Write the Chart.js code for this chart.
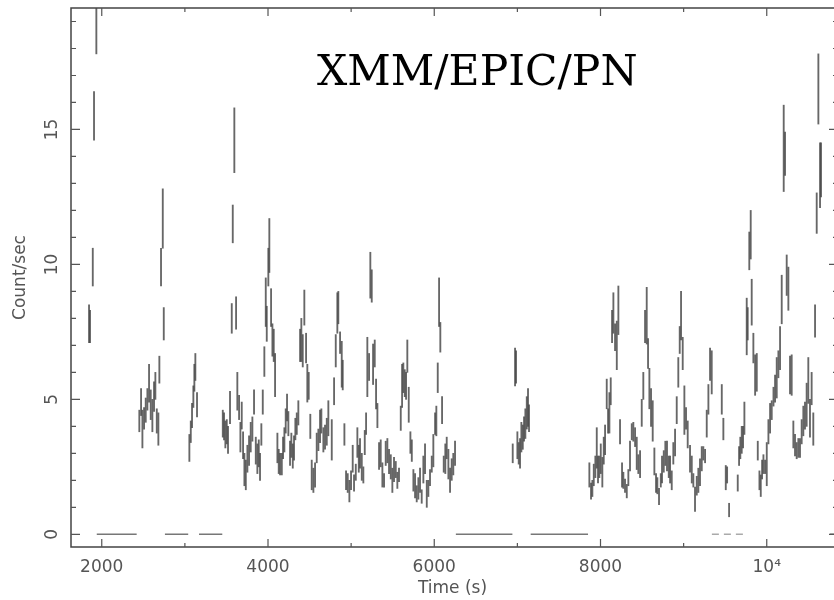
<!DOCTYPE html>
<html><head><meta charset="utf-8">
<script src="https://cdn.jsdelivr.net/npm/chart.js@4"></script>
<style>html,body{margin:0;padding:0;background:#fff}canvas{display:block}</style>
</head><body>
<canvas id="c" width="834" height="600"></canvas>
<script>
// ---- data (time in s, count rate, 1-sigma error) ----
const time = [
1847,1859,1892,1907,1935,
2452,2473,2489,2509,2529,2549,2569,2589,2609,2629,2645,2662,2681,2693,2713,2734,2746,
3054,3071,3086,3102,3114,3126,3146,
3456,3471,3487,3504,3519,3543,3564,3576,3595,3616,3631,3652,3668,3684,3700,3716,3733,3752,3772,3792,3812,3832,3853,3872,3889,3904,3920,3937,3956,3973,3985,4004,4016,4037,4053,4069,4085,4113,4129,4145,4166,4181,4197,4213,4229,4245,4265,4281,4298,4313,4329,4346,4365,4386,4401,4418,4437,4458,4473,4490,4509,4526,4546,4566,4586,4606,4626,4642,4666,4686,4707,4726,
4767,4795,4815,4834,4846,4867,4887,4899,4919,4939,4959,4979,4999,5019,5035,5056,5075,5092,5107,5128,5147,5164,5180,5195,5216,5231,5248,5264,5284,5300,5316,5336,5356,5376,5396,5416,5436,5456,5477,5496,5516,5537,5556,5576,5597,5613,5628,5645,5661,5676,5693,5713,5730,5749,5769,5789,5809,5829,5849,5869,5889,5910,5929,5949,5970,5989,6010,6025,6042,6058,6073,6094,6114,6133,6150,6170,6190,6210,6229,6250,
6944,6972,6984,7000,7016,7032,7048,7065,7080,7096,7113,7128,7140,
7866,7886,7902,7919,7938,7955,7970,7986,8003,8022,8039,8055,8075,8091,8107,8123,8139,8155,8175,8196,8215,8235,8259,8275,8295,8316,8335,8355,8376,8395,8416,8436,8455,8476,8496,8515,8536,8556,8572,8588,8608,8628,8648,8668,8684,8704,8725,8740,8761,8780,8800,8821,8837,8857,8876,8897,8917,8936,8953,8969,8989,9009,9029,9049,9077,9098,9117,9137,9158,9177,9197,9218,9237,9258,9278,9298,9318,9338,
9459,9478,9507,9523,9547,9651,9667,9682,9699,9715,9731,9759,9771,9790,9807,9819,9839,9860,9880,9892,9912,9928,9944,9960,9980,10000,10020,10040,10060,10081,10100,10120,10140,10160,10180,10204,10220,10240,10260,10280,10300,10320,10340,10360,10380,10400,10420,10440,10460,10480,10500,10520,10540,10560,10581,10601,10621,10641,10653
];
const rate = [
7.8,7.7,9.9,15.5,19.2,
4.2,4.9,3.9,4.3,4.6,5.0,5.6,4.8,4.4,5.1,5.5,4.2,3.9,6.1,9.9,11.7,7.8,
3.2,3.8,4.4,5.1,5.8,6.2,4.8,
4.1,4.0,3.7,3.8,3.5,4.7,8.0,11.5,14.6,8.2,5.3,4.7,3.6,4.4,3.3,2.4,2.2,2.8,3.1,3.6,3.9,4.9,3.1,2.8,3.0,2.5,3.7,4.9,6.4,8.6,7.8,9.9,10.7,8.4,7.2,7.0,5.9,3.2,2.7,2.6,2.6,3.2,3.5,4.2,4.7,4.1,3.0,3.3,2.9,3.2,3.9,4.1,4.5,7.0,7.2,6.8,8.4,6.9,5.6,5.5,4.0,2.2,2.0,2.2,3.2,3.5,4.0,4.2,3.5,3.6,3.8,4.3,
3.5,5.3,6.8,8.2,8.4,7.1,6.3,5.9,3.7,2.0,1.9,1.6,2.0,2.8,1.9,2.3,3.4,2.8,3.0,2.5,2.2,3.4,4.1,6.2,6.2,9.6,9.2,6.3,6.7,5.2,4.4,2.9,3.0,2.2,2.0,3.0,3.1,2.7,2.5,2.0,2.4,2.4,2.0,2.2,4.3,5.5,5.8,5.6,5.5,6.6,4.8,3.4,3.1,2.0,1.8,1.5,1.7,2.0,1.4,2.4,2.8,1.5,1.7,2.1,2.6,3.1,4.1,4.2,5.8,8.6,7.3,4.6,2.6,2.8,3.2,2.6,2.0,2.4,2.6,3.0,
3.0,6.2,6.2,3.3,3.0,3.0,3.6,3.6,3.9,4.1,4.5,4.7,4.3,
2.2,1.6,1.7,2.2,2.5,3.2,2.4,2.5,2.8,2.3,3.1,3.5,5.2,4.2,4.5,5.3,7.7,8.2,7.3,7.0,8.3,3.8,2.2,2.0,1.8,1.6,2.1,2.9,3.8,3.8,3.6,3.0,2.6,2.6,4.5,5.5,7.7,8.1,6.7,5.4,4.7,4.2,2.7,1.9,1.8,1.4,2.0,2.4,2.7,3.0,2.9,2.5,2.4,2.0,3.0,3.4,4.6,6.0,7.2,8.1,6.7,4.6,4.3,3.7,2.8,2.4,2.0,1.3,1.8,2.0,2.3,2.8,3.0,2.9,4.1,5.0,6.3,6.0,
5.0,3.9,2.1,2.2,0.9,1.9,2.9,3.2,3.5,3.6,4.3,7.7,7.8,10.5,11.1,8.6,6.9,5.9,6.0,3.1,2.0,1.8,2.4,2.6,2.5,2.6,3.8,4.3,4.6,5.1,5.4,5.8,6.3,6.9,8.7,14.3,14.1,9.6,9.1,5.9,5.9,3.7,3.3,3.1,3.2,3.2,3.8,4.2,4.4,4.8,5.7,4.3,5.4,3.9,7.9,11.9,16.5,13.3,13.5
];
const rateErr = [
0.7,0.6,0.7,0.9,1.4,
0.4,0.5,0.7,0.4,0.45,0.4,0.7,0.55,0.6,0.55,0.5,0.45,0.6,0.5,0.7,1.1,0.6,
0.5,0.4,0.45,0.4,0.5,0.5,0.45,
0.5,0.5,0.5,0.45,0.5,0.6,0.55,0.7,1.2,0.6,0.7,0.45,0.55,0.5,0.5,0.6,0.55,0.5,0.55,0.55,0.45,0.45,0.5,0.55,0.5,0.5,0.4,0.45,0.55,0.9,0.65,0.7,1.0,0.7,0.6,0.6,0.8,0.55,0.45,0.4,0.4,0.4,0.45,0.45,0.5,0.45,0.45,0.45,0.45,0.45,0.4,0.4,0.45,0.6,0.8,0.6,0.65,0.55,0.7,0.5,0.45,0.55,0.45,0.45,0.55,0.4,0.6,0.45,0.45,0.45,0.5,0.65,
0.75,0.5,0.6,0.75,0.6,0.4,0.85,0.55,0.4,0.35,0.35,0.4,0.35,0.5,0.3,0.3,0.55,0.5,0.55,0.5,0.3,0.45,0.4,1.1,0.5,0.85,0.6,0.75,0.5,0.55,0.45,0.5,0.5,0.45,0.25,0.45,0.45,0.45,0.45,0.45,0.45,0.3,0.3,0.25,0.45,0.8,0.55,0.5,0.5,0.6,0.65,0.4,0.4,0.4,0.45,0.3,0.4,0.45,0.25,0.5,0.55,0.5,0.3,0.3,0.3,0.6,0.4,0.55,0.55,0.9,0.55,0.5,0.3,0.55,0.4,0.55,0.45,0.4,0.4,0.45,
0.35,0.7,0.6,0.5,0.4,0.55,0.55,0.45,0.45,0.55,0.6,0.7,0.5,
0.45,0.3,0.3,0.4,0.4,0.75,0.5,0.4,0.55,0.55,0.5,0.55,0.55,0.45,0.75,0.5,0.6,0.75,0.5,0.9,0.9,0.45,0.45,0.3,0.25,0.25,0.3,0.55,0.3,0.35,0.35,0.6,0.35,0.5,0.5,0.5,0.6,1.05,0.55,0.75,0.7,0.75,0.5,0.35,0.3,0.3,0.25,0.5,0.4,0.45,0.55,0.4,0.5,0.35,0.4,0.5,0.5,0.55,0.5,0.9,0.6,0.9,0.4,0.5,0.5,0.5,0.25,0.45,0.35,0.45,0.5,0.45,0.25,0.25,0.5,0.55,0.6,0.8,
0.55,0.4,0.45,0.3,0.25,0.3,0.35,0.4,0.5,0.4,0.6,1.05,0.6,0.7,0.9,0.85,0.55,0.75,0.7,0.35,0.35,0.4,0.35,0.35,0.25,0.8,0.45,0.55,0.35,0.35,0.5,0.75,0.5,0.8,0.9,1.6,0.8,0.75,0.8,0.7,0.75,0.5,0.4,0.3,0.35,0.35,0.45,0.55,0.5,0.8,0.85,0.7,0.6,0.6,0.6,0.75,1.3,1.2,1.0
];
// intervals plotted at zero count rate (solid and faint dashed)
const zeroStart = [1940, 2760, 3170, 6260, 7160, 10760];
const zeroEnd   = [2420, 3040, 3450, 6940, 7850, 10820];
const faintZeroStart = [9340];
const faintZeroEnd   = [9740];
// axes
const xTicks = [2000, 4000, 6000, 8000, 10000];
const xTickLabels = ['2000', '4000', '6000', '8000', '10\u2074'];
const xMinorTicks = [3000, 5000, 7000, 9000];
const yTicks = [0, 5, 10, 15];
const yTickLabels = ['0', '5', '10', '15'];
const yMinorTicks = [1,2,3,4,6,7,8,9,11,12,13,14,16,17,18,19];
const chartTitle = 'XMM/EPIC/PN';

// ---- build datasets ----
const barData = time.map((t, i) => ({x: t, y: [rate[i] - rateErr[i], rate[i] + rateErr[i]]}));
function segs(s, e) {
  const out = [];
  s.forEach((v, i) => { out.push({x: v, y: 0}, {x: e[i], y: 0}, {x: e[i] + 1, y: null}); });
  return out;
}

const framePlugin = {
  id: 'frame',
  afterDraw(chart) {
    const {ctx, chartArea: a, scales: {x, y}} = chart;
    ctx.save();
    ctx.strokeStyle = '#444';
    ctx.lineWidth = 1.5;
    ctx.beginPath();
    ctx.moveTo(a.right + 10, a.top); ctx.lineTo(a.left, a.top);
    ctx.lineTo(a.left, a.bottom); ctx.lineTo(a.right + 10, a.bottom);
    ctx.stroke();
    ctx.lineWidth = 1.2;
    ctx.strokeStyle = '#555';
    ctx.beginPath();
    const rightAxis = a.right + 4;
    xTicks.forEach(v => { const p = x.getPixelForValue(v);
      ctx.moveTo(p, a.bottom); ctx.lineTo(p, a.bottom - 8);
      ctx.moveTo(p, a.top); ctx.lineTo(p, a.top + 8); });
    xMinorTicks.forEach(v => { const p = x.getPixelForValue(v);
      ctx.moveTo(p, a.bottom); ctx.lineTo(p, a.bottom - 4);
      ctx.moveTo(p, a.top); ctx.lineTo(p, a.top + 4); });
    yTicks.forEach(v => { const p = y.getPixelForValue(v);
      ctx.moveTo(a.left, p); ctx.lineTo(a.left + 9, p);
      ctx.moveTo(rightAxis, p); ctx.lineTo(rightAxis - 9, p); });
    yMinorTicks.forEach(v => { const p = y.getPixelForValue(v);
      ctx.moveTo(a.left, p); ctx.lineTo(a.left + 5, p);
      ctx.moveTo(rightAxis, p); ctx.lineTo(rightAxis - 5, p); });
    ctx.stroke();
    // rotated y tick labels
    ctx.fillStyle = '#555';
    ctx.font = '17px "DejaVu Sans"';
    ctx.textAlign = 'center';
    ctx.textBaseline = 'middle';
    yTicks.forEach((v, i) => {
      const p = y.getPixelForValue(v);
      ctx.save(); ctx.translate(53, p); ctx.rotate(-Math.PI / 2);
      ctx.fillText(yTickLabels[i], 0, 0); ctx.restore();
    });
    // title inside plot
    ctx.fillStyle = '#000';
    ctx.font = '42.5px "DejaVu Serif"';
    ctx.textAlign = 'left';
    ctx.textBaseline = 'alphabetic';
    ctx.fillText(chartTitle, 317, 85);
    ctx.restore();
  }
};

new Chart(document.getElementById('c'), {
  type: 'bar',
  data: {
    datasets: [
      {type: 'bar', data: barData, backgroundColor: 'rgba(70,70,70,0.82)', borderWidth: 0,
       barThickness: 1.2, grouped: false, borderSkipped: false},
      {type: 'line', data: segs(zeroStart, zeroEnd), borderColor: '#777', borderWidth: 1.6,
       pointRadius: 0, spanGaps: false, fill: false},
      {type: 'line', data: segs(faintZeroStart, faintZeroEnd), borderColor: '#aaa', borderWidth: 1.4,
       borderDash: [7, 5], pointRadius: 0, spanGaps: false, fill: false}
    ]
  },
  options: {
    responsive: false,
    animation: false,
    layout: {padding: {left: 0, right: 0, top: 8, bottom: 0}},
    plugins: {legend: {display: false}, tooltip: {enabled: false}, title: {display: false}},
    scales: {
      x: {
        type: 'linear', min: 1630, max: 10809, offset: false,
        grid: {display: false, drawTicks: false}, border: {display: false},
        afterBuildTicks: s => { s.ticks = xTicks.map(v => ({value: v})); },
        afterFit: s => { s.height = 53; },
        ticks: {
          autoSkip: false, maxRotation: 0, padding: 10, color: '#555',
          font: {family: 'DejaVu Sans', size: 17},
          callback: v => xTickLabels[xTicks.indexOf(v)]
        },
        title: {display: true, text: 'Time (s)', color: '#555',
          font: {family: 'DejaVu Sans', size: 17}, padding: {top: 0, bottom: 1}}
      },
      y: {
        type: 'linear', min: -0.47, max: 19.5,
        grid: {display: false, drawTicks: false}, border: {display: false},
        afterFit: s => { s.width = 71; },
        ticks: {display: false},
        title: {display: true, text: 'Count/sec', color: '#555',
          font: {family: 'DejaVu Sans', size: 17}, padding: {top: 10, bottom: 0}}
      }
    }
  },
  plugins: [framePlugin]
});
</script>
</body></html>
